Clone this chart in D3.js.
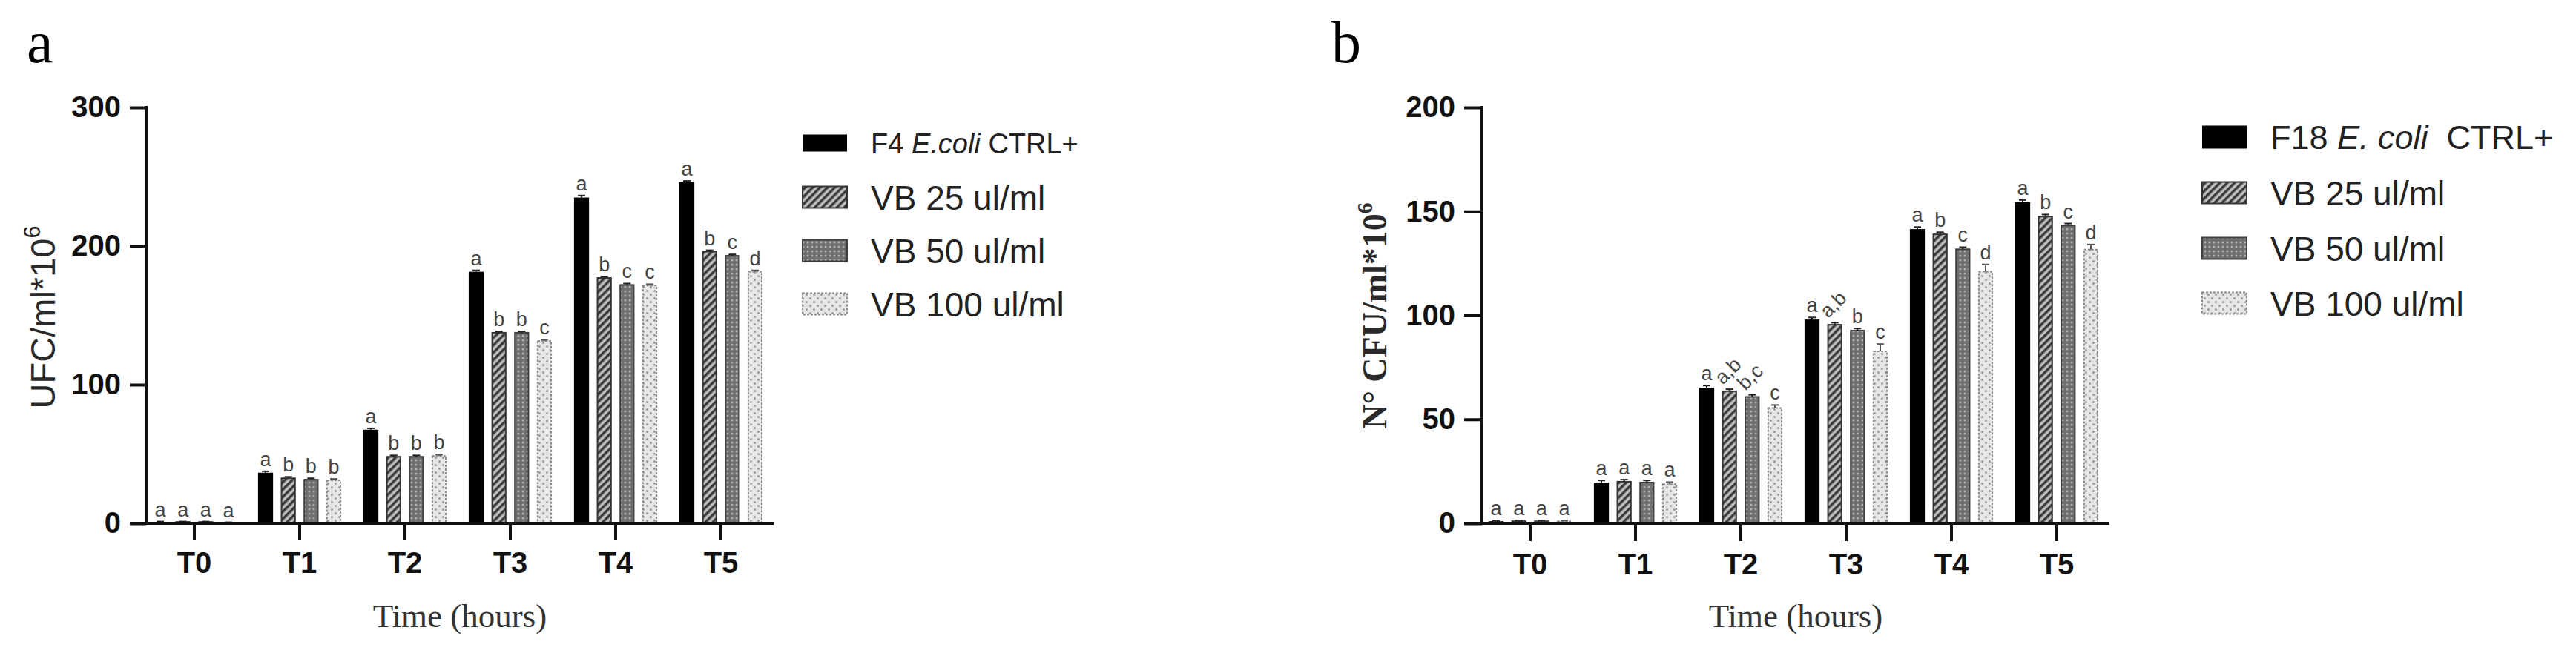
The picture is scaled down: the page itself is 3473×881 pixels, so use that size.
<!DOCTYPE html>
<html><head><meta charset="utf-8">
<script src="https://cdn.jsdelivr.net/npm/d3@7"></script>
<style>body{margin:0;background:#fff;} svg{display:block}</style>
</head><body>
<svg id="c" width="3473" height="881"></svg>
<script>
// ---------- DATA ----------
const categories = ["T0", "T1", "T2", "T3", "T4", "T5"];

// Panel a (UFC/ml*10^6)
const seriesA = ["F4 |E.coli| CTRL+", "VB 25 ul/ml", "VB 50 ul/ml", "VB 100 ul/ml"];
const ctrlA  = [1, 36.5, 67.5, 181.5, 235, 246];
const vb25A  = [1, 32.5, 48, 137.5, 177, 196];
const vb50A  = [1, 31.5, 48, 137.5, 172, 193];
const vb100A = [0.5, 31, 48.5, 131.5, 171.5, 181.5];
const errCtrlA  = [0.3, 1, 1, 1, 1.5, 1];
const errVb25A  = [0.3, 1, 1, 1, 1, 1];
const errVb50A  = [0.3, 1, 1, 1, 1, 1];
const errVb100A = [0.3, 1, 1, 1, 1, 1];
const letCtrlA  = ["a", "a", "a", "a", "a", "a"];
const letVb25A  = ["a", "b", "b", "b", "b", "b"];
const letVb50A  = ["a", "b", "b", "b", "c", "c"];
const letVb100A = ["a", "b", "b", "c", "c", "d"];
const yTicksA = [0, 100, 200, 300];

// Panel b (N° CFU/ml*10^6)
const seriesB = ["F18 |E. coli|  CTRL+", "VB 25 ul/ml", "VB 50 ul/ml", "VB 100 ul/ml"];
const ctrlB  = [1, 19.6, 65.2, 98, 141.5, 154.5];
const vb25B  = [1, 20, 63.5, 95.5, 139, 147.5];
const vb50B  = [1, 19.6, 60.8, 92.7, 131.8, 143.2];
const vb100B = [1, 18.8, 55.4, 82.7, 121, 131.6];
const errCtrlB  = [0.3, 1, 1, 1, 1, 1];
const errVb25B  = [0.3, 1, 1, 1, 1, 1];
const errVb50B  = [0.3, 1, 1, 1, 1, 1];
const errVb100B = [0.3, 1, 1.5, 3.5, 3.5, 2.5];
const letCtrlB  = ["a", "a", "a", "a", "a", "a"];
const letVb25B  = ["a", "a", "a,b", "a,b", "b", "b"];
const letVb50B  = ["a", "a", "b,c", "b", "c", "c"];
const letVb100B = ["a", "a", "c", "c", "d", "d"];
const yTicksB = [0, 50, 100, 150, 200];

// ---------- STYLES ----------
const svg = d3.select("#c");
const defs = svg.append("defs");
const ph = defs.append("pattern").attr("id", "hatch").attr("patternUnits", "userSpaceOnUse")
  .attr("width", 7).attr("height", 7).attr("patternTransform", "rotate(45)");
ph.append("rect").attr("width", 7).attr("height", 7).attr("fill", "#bdbdbd");
ph.append("rect").attr("width", 3.4).attr("height", 7).attr("fill", "#3a3a3a");
const pd = defs.append("pattern").attr("id", "dense").attr("patternUnits", "userSpaceOnUse")
  .attr("width", 6).attr("height", 6);
pd.append("rect").attr("width", 6).attr("height", 6).attr("fill", "#6f6f6f");
pd.append("circle").attr("cx", 3).attr("cy", 3).attr("r", 1.5).attr("fill", "#b0b0b0");
const pl = defs.append("pattern").attr("id", "light").attr("patternUnits", "userSpaceOnUse")
  .attr("width", 10).attr("height", 10);
pl.append("rect").attr("width", 10).attr("height", 10).attr("fill", "#e6e6e6");
pl.append("circle").attr("cx", 2.5).attr("cy", 2.5).attr("r", 1.5).attr("fill", "#9a9a9a");
pl.append("circle").attr("cx", 7.5).attr("cy", 7.5).attr("r", 1.5).attr("fill", "#9a9a9a");

const fills = ["#000", "url(#hatch)", "url(#dense)", "url(#light)"];
const strokes = ["#000", "#333", "#404040", "#8a8a8a"];
const dashes = [null, null, null, "3,2"];

const SANS = "'Liberation Sans', Arial, Helvetica, sans-serif";
const SERIF = "'Liberation Serif', 'Times New Roman', serif";

function drawChart(o) {
  const g = svg.append("g");
  const x0 = d3.scaleBand().domain(categories).range(o.xRange).paddingInner(0.21).paddingOuter(0.105);
  const x1 = d3.scaleBand().domain(d3.range(4)).range([0, x0.bandwidth()]).paddingInner(0.34);
  const y = d3.scaleLinear().domain([0, o.yMax]).range([o.yBottom, o.yTop]);

  // bars
  o.values.forEach((vals, s) => {
    const bw = x1.bandwidth();
    g.append("g").selectAll("rect").data(vals).join("rect")
      .attr("x", (d, i) => x0(categories[i]) + x1(s) + (s ? 1 : 0))
      .attr("y", d => y(d))
      .attr("width", bw - (s ? 2 : 0))
      .attr("height", d => y(0) - y(d))
      .attr("fill", fills[s]).attr("stroke", strokes[s]).attr("stroke-width", s ? 2 : 0)
      .attr("stroke-dasharray", dashes[s]);
    // error bars
    const eg = g.append("g").attr("stroke", s === 3 ? "#555" : "#222").attr("stroke-width", 2);
    vals.forEach((d, i) => {
      const cx = x0(categories[i]) + x1(s) + bw / 2;
      const e = o.errors[s][i];
      eg.append("line").attr("x1", cx).attr("x2", cx).attr("y1", y(d)).attr("y2", y(d + e));
      eg.append("line").attr("x1", cx - 5).attr("x2", cx + 5).attr("y1", y(d + e)).attr("y2", y(d + e));
    });
    // letters
    vals.forEach((d, i) => {
      const cx = x0(categories[i]) + x1(s) + bw / 2;
      const top = y(d + o.errors[s][i]);
      const lab = o.letters[s][i];
      const t = g.append("text").text(lab)
        .attr("font-family", SANS).attr("font-size", 27).attr("fill", "#454545");
      if (lab.includes(",")) {
        t.attr("text-anchor", "start")
          .attr("transform", `translate(${cx - 9},${top - 5}) rotate(-45)`);
      } else {
        t.attr("text-anchor", "middle").attr("x", cx).attr("y", top - 7);
      }
    });
  });

  // y axis
  const ya = g.append("g").attr("transform", `translate(${o.axisX},0)`)
    .call(d3.axisLeft(y).tickValues(o.yTicks).tickFormat(d3.format("d")).tickSize(o.tick).tickSizeOuter(0).tickPadding(12));
  ya.select(".domain").remove();
  ya.selectAll(".tick line").attr("stroke", "#111").attr("stroke-width", 4);
  ya.selectAll("text").attr("font-family", SANS).attr("font-weight", "bold").attr("font-size", 40).attr("fill", "#111");
  g.append("line").attr("x1", o.axisX).attr("x2", o.axisX).attr("y1", y(o.yMax) - 2).attr("y2", y(0) + 2)
    .attr("stroke", "#111").attr("stroke-width", 4);

  // x axis
  const xa = g.append("g").attr("transform", `translate(0,${y(0)})`)
    .call(d3.axisBottom(x0).tickSize(o.tick).tickSizeOuter(0).tickPadding(17));
  xa.select(".domain").remove();
  xa.selectAll(".tick line").attr("stroke", "#111").attr("stroke-width", 4);
  xa.selectAll("text").attr("font-family", SANS).attr("font-weight", "bold").attr("font-size", 40).attr("fill", "#111");
  g.append("line").attr("x1", o.axisX - o.tick).attr("x2", o.xRange[1]).attr("y1", y(0)).attr("y2", y(0))
    .attr("stroke", "#111").attr("stroke-width", 4);

  // x title
  g.append("text").text("Time (hours)")
    .attr("x", (o.axisX + o.xRange[1]) / 2).attr("y", 846)
    .attr("text-anchor", "middle").attr("font-family", SERIF).attr("font-size", 45).attr("fill", "#333");

  // y title
  const yt = g.append("text")
    .attr("transform", `translate(${o.yTitleX},${o.yTitleY}) rotate(-90)`)
    .attr("text-anchor", "middle").attr("font-family", o.yTitleFont)
    .attr("font-weight", o.yTitleWeight).attr("font-size", o.yTitleSize).attr("fill", "#2a2a2a");
  yt.append("tspan").text(o.yTitle);
  yt.append("tspan").text("6").attr("font-size", o.yTitleSize * 0.65).attr("dy", -o.yTitleSize * 0.42);

  // panel letter
  g.append("text").text(o.panel).attr("x", o.panelX).attr("y", 84)
    .attr("font-family", SERIF).attr("font-size", 80).attr("fill", "#000");

  // legend
  o.series.forEach((name, s) => {
    const cy = o.legendY[s];
    const h = (s === 0) ? o.blackH : 29;
    g.append("rect").attr("x", o.legendX).attr("y", cy - h / 2).attr("width", 60).attr("height", h)
      .attr("fill", fills[s]).attr("stroke", strokes[s]).attr("stroke-width", s ? 2 : 0)
      .attr("stroke-dasharray", dashes[s]);
    const fs = s === 0 ? o.firstFont : 46;
    const t = g.append("text").attr("x", o.legendX + 92).attr("y", cy + fs * 0.36)
      .attr("font-family", SANS).attr("font-size", fs).attr("fill", "#222")
      .attr("xml:space", "preserve").style("white-space", "pre");
    name.split("|").forEach((part, k) => {
      t.append("tspan").text(part).attr("font-style", k % 2 ? "italic" : "normal");
    });
  });
}

drawChart({
  panel: "a", panelX: 36,
  xRange: [191, 1043], axisX: 197, tick: 22,
  yMax: 300, yTop: 145, yBottom: 706, yTicks: yTicksA,
  values: [ctrlA, vb25A, vb50A, vb100A],
  errors: [errCtrlA, errVb25A, errVb50A, errVb100A],
  letters: [letCtrlA, letVb25A, letVb50A, letVb100A],
  yTitle: "UFC/ml*10", yTitleX: 74, yTitleY: 428, yTitleFont: SANS, yTitleWeight: "normal", yTitleSize: 47,
  series: seriesA, legendX: 1082, legendY: [193, 266, 338, 410], blackH: 23, firstFont: 38
});

drawChart({
  panel: "b", panelX: 1795,
  xRange: [1992, 2844], axisX: 1998, tick: 24,
  yMax: 200, yTop: 145, yBottom: 706, yTicks: yTicksB,
  values: [ctrlB, vb25B, vb50B, vb100B],
  errors: [errCtrlB, errVb25B, errVb50B, errVb100B],
  letters: [letCtrlB, letVb25B, letVb50B, letVb100B],
  yTitle: "N° CFU/ml*10", yTitleX: 1869, yTitleY: 426, yTitleFont: SERIF, yTitleWeight: "bold", yTitleSize: 46,
  series: seriesB, legendX: 2969, legendY: [185, 260, 335, 409], blackH: 31, firstFont: 45
});
</script>
</body></html>
